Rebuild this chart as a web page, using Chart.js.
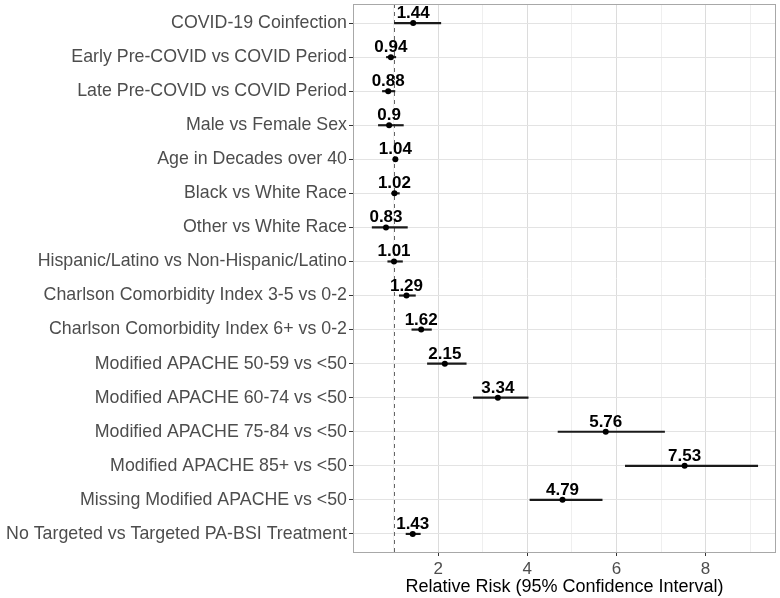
<!DOCTYPE html>
<html>
<head>
<meta charset="utf-8">
<script src="https://cdn.jsdelivr.net/npm/chart.js@4/dist/chart.umd.min.js"></script>
<style>
  html, body { margin: 0; padding: 0; background: #fff; }
  #wrap { width: 780px; height: 598px; }
</style>
</head>
<body>
<div id="wrap"><canvas id="myChart"></canvas></div>
<script>
// data
const labels = [
    'COVID-19 Coinfection',
    'Early Pre-COVID vs COVID Period',
    'Late Pre-COVID vs COVID Period',
    'Male vs Female Sex',
    'Age in Decades over 40',
    'Black vs White Race',
    'Other vs White Race',
    'Hispanic/Latino vs Non-Hispanic/Latino',
    'Charlson Comorbidity Index 3-5 vs 0-2',
    'Charlson Comorbidity Index 6+ vs 0-2',
    'Modified APACHE 50-59 vs <50',
    'Modified APACHE 60-74 vs <50',
    'Modified APACHE 75-84 vs <50',
    'Modified APACHE 85+ vs <50',
    'Missing Modified APACHE vs <50',
    'No Targeted vs Targeted PA-BSI Treatment'
];
const estimate = [1.44, 0.94, 0.88, 0.9, 1.04, 1.02, 0.83, 1.01, 1.29, 1.62, 2.15, 3.34, 5.76, 7.53, 4.79, 1.43];
const lower    = [1.02, 0.84, 0.75, 0.66, 1.01, 0.96, 0.52, 0.87, 1.13, 1.41, 1.76, 2.79, 4.69, 6.20, 4.06, 1.28];
const upper    = [2.06, 1.05, 1.03, 1.22, 1.07, 1.13, 1.31, 1.20, 1.49, 1.85, 2.63, 4.02, 7.08, 9.17, 5.68, 1.60];
const xTicks   = [1, 2, 3, 4, 5, 6, 7, 8, 9];
const refLine  = 1;

const FONT = 'Liberation Sans, Arial, sans-serif';

// border, dashed reference line, value labels
const forestExtras = {
    id: 'forestExtras',
    beforeDatasetsDraw(chart) {
        const { ctx, chartArea: { top, bottom }, scales: { x } } = chart;
        const px = Math.round(x.getPixelForValue(refLine)) + 0.5;
        ctx.save();
        ctx.strokeStyle = '#666';
        ctx.lineWidth = 1;
        ctx.setLineDash([4, 4]);
        ctx.beginPath();
        ctx.moveTo(px, top);
        ctx.lineTo(px, bottom);
        ctx.stroke();
        ctx.restore();
    },
    afterDraw(chart) {
        const { ctx, chartArea: { top, bottom, left, right }, scales: { x, y } } = chart;
        ctx.save();
        ctx.strokeStyle = '#a8a8a8';
        ctx.lineWidth = 1;
        ctx.strokeRect(Math.round(left) + 0.5, Math.round(top) + 0.5,
            Math.round(right - left) - 1, Math.round(bottom - top) - 1);
        ctx.fillStyle = '#000';
        ctx.font = 'bold 17px ' + FONT;
        ctx.textAlign = 'center';
        ctx.textBaseline = 'alphabetic';
        estimate.forEach(function(v, i) {
            ctx.fillText(String(v), x.getPixelForValue(v), y.getPixelForValue(i) - 5);
        });
        ctx.restore();
    }
};

const data = {
    datasets: [
        {
            type: 'bar',
            data: lower.map((l, i) => ({ x: [l, upper[i]], y: i })),
            backgroundColor: '#1a1a1a',
            barThickness: 1.5,
            order: 2
        },
        {
            type: 'line',
            data: estimate.map((v, i) => ({ x: v, y: i })),
            showLine: false,
            pointRadius: 3,
            pointBackgroundColor: '#000',
            pointBorderWidth: 0,
            order: 1
        }
    ]
};

const config = {
    type: 'bar',
    data,
    options: {
        indexAxis: 'y',
        responsive: true,
        maintainAspectRatio: false,
        animation: false,
        layout: { padding: { top: 3, right: 2, left: 0, bottom: 0 } },
        plugins: {
            legend: { display: false },
            tooltip: { enabled: false }
        },
        scales: {
            x: {
                type: 'linear',
                min: 0.09,
                max: 9.58,
                afterBuildTicks: axis => { axis.ticks = xTicks.map(v => ({ value: v })); },
                afterFit: axis => {
                    axis.height = 45;
                    axis.paddingLeft = 0;
                    axis.paddingRight = 0;
                },
                border: { display: false },
                grid: {
                    color: c => (c.tick && c.tick.value % 2 === 0) ? '#dcdcdc' : '#efefef',
                    tickColor: c => (c.tick && c.tick.value % 2 === 0) ? '#333' : 'rgba(0,0,0,0)',
                    tickLength: 3,
                    lineWidth: 1
                },
                ticks: {
                    autoSkip: false,
                    maxRotation: 0,
                    padding: 3,
                    color: '#4d4d4d',
                    font: { family: FONT, size: 17 },
                    callback: v => (v % 2 === 0 ? String(v) : '')
                },
                title: {
                    display: true,
                    text: 'Relative Risk (95% Confidence Interval)',
                    color: '#000',
                    font: { family: FONT, size: 18 },
                    padding: { top: 0, bottom: 0 }
                }
            },
            y: {
                type: 'linear',
                reverse: true,
                offset: false,
                min: -0.56,
                max: labels.length - 1 + 0.56,
                afterBuildTicks: axis => { axis.ticks = labels.map((l, i) => ({ value: i })); },
                afterFit: axis => {
                    axis.width = 353;
                    axis.paddingTop = 0;
                    axis.paddingBottom = 0;
                },
                border: { display: false },
                grid: {
                    offset: false,
                    color: '#e3e3e3',
                    tickColor: '#333',
                    tickLength: 4
                },
                ticks: {
                    autoSkip: false,
                    padding: 2,
                    color: '#4d4d4d',
                    font: { family: FONT, size: 17.8 },
                    callback: v => labels[v]
                }
            }
        }
    },
    plugins: [forestExtras]
};

const myChart = new Chart(document.getElementById('myChart').getContext('2d'), config);
</script>
</body>
</html>
